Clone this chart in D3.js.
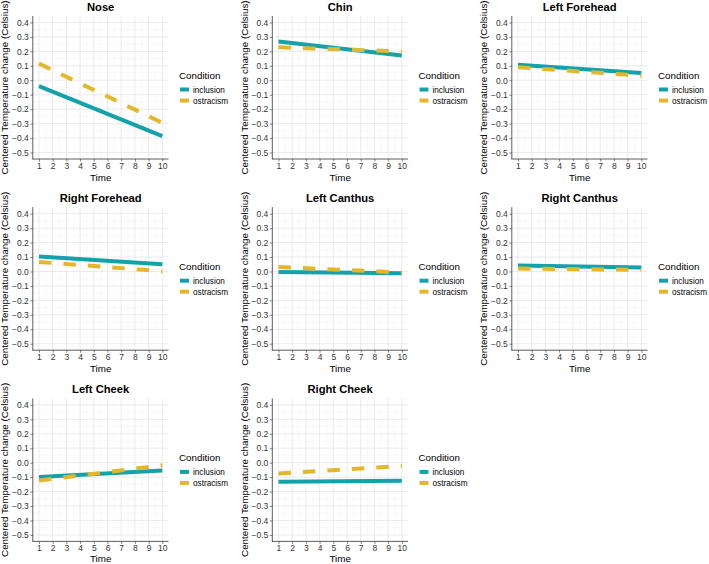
<!DOCTYPE html>
<html>
<head>
<meta charset="utf-8">
<script src="https://cdn.jsdelivr.net/npm/d3@7"></script>
<style>
  html, body { margin: 0; padding: 0; background: #fff; }
  svg { display: block; font-family: "Liberation Sans", Arial, sans-serif; }
</style>
</head>
<body>
<svg id="chart" width="709" height="564"></svg>
<script>
// ---- data ----
const regions = ["Nose", "Chin", "Left Forehead", "Right Forehead", "Left Canthus", "Right Canthus", "Left Cheek", "Right Cheek"];
const times = [1, 10];
const conditions = ["inclusion", "ostracism"];
// fitted values at Time 1 and Time 10
const inclusionValues = [
  [-0.041, -0.386],
  [0.269, 0.172],
  [0.108, 0.051],
  [0.103, 0.050],
  [-0.003, -0.012],
  [0.041, 0.027],
  [-0.100, -0.055],
  [-0.132, -0.125]
];
const ostracismValues = [
  [0.115, -0.294],
  [0.228, 0.200],
  [0.090, 0.032],
  [0.066, 0.002],
  [0.031, -0.007],
  [0.020, 0.011],
  [-0.123, -0.018],
  [-0.075, -0.022]
];
const yTicks = [-0.5, -0.4, -0.3, -0.2, -0.1, 0.0, 0.1, 0.2, 0.3, 0.4];
const xTicks = [1, 2, 3, 4, 5, 6, 7, 8, 9, 10];
const yLabel = "Centered Temperature change (Celsius)";
const xLabel = "Time";
const legendTitle = "Condition";

// ---- styles ----
const colors = { inclusion: "#13A2A9", ostracism: "#E4B72A" };
const dashes = { inclusion: null, ostracism: "12.5,12" };

const svg = d3.select("#chart");
const colStep = 239.5, rowStep = 191.2;
const plotL = 32.8, plotR = 168.5, plotT = 16, plotB = 159;

const x = d3.scaleLinear().domain([0.55, 10.45]).range([plotL, plotR]);
const y = d3.scaleLinear().domain([-0.545, 0.445]).range([plotB, plotT]);

const fmt = v => (v < 0 ? "\u22120" + d3.format(".1f")(-v).slice(1) : d3.format(".1f")(v));

const line = d3.line().x(d => x(d[0])).y(d => y(d[1]));

regions.forEach((name, i) => {
  const col = i % 3, row = Math.floor(i / 3);
  const g = svg.append("g").attr("transform", `translate(${col * colStep},${row * rowStep})`);

  // grid minor
  const xMinor = xTicks.slice(0, -1).map(t => t + 0.5);
  const yMinor = yTicks.slice(0, -1).map(t => t + 0.05);
  g.append("g").selectAll("line.xm").data(xMinor).join("line")
    .attr("x1", d => x(d)).attr("x2", d => x(d)).attr("y1", plotT).attr("y2", plotB)
    .attr("stroke", "#f3f3f3").attr("stroke-width", 0.5);
  g.append("g").selectAll("line.ym").data(yMinor).join("line")
    .attr("x1", plotL).attr("x2", plotR).attr("y1", d => y(d)).attr("y2", d => y(d))
    .attr("stroke", "#f3f3f3").attr("stroke-width", 0.5);
  // grid major
  g.append("g").selectAll("line.xM").data(xTicks).join("line")
    .attr("x1", d => x(d)).attr("x2", d => x(d)).attr("y1", plotT).attr("y2", plotB)
    .attr("stroke", "#e6e6e6").attr("stroke-width", 0.8);
  g.append("g").selectAll("line.yM").data(yTicks).join("line")
    .attr("x1", plotL).attr("x2", plotR).attr("y1", d => y(d)).attr("y2", d => y(d))
    .attr("stroke", "#e6e6e6").attr("stroke-width", 0.8);

  // clip
  const cid = "clip" + i;
  g.append("clipPath").attr("id", cid).append("rect")
    .attr("x", plotL).attr("y", plotT).attr("width", plotR - plotL).attr("height", plotB - plotT);

  // lines
  const series = [
    { c: "inclusion", v: inclusionValues[i] },
    { c: "ostracism", v: ostracismValues[i] }
  ];
  series.forEach(s => {
    g.append("path")
      .attr("clip-path", `url(#${cid})`)
      .attr("d", line(times.map((t, k) => [t, s.v[k]])))
      .attr("fill", "none")
      .attr("stroke", colors[s.c])
      .attr("stroke-width", 4)
      .attr("stroke-dasharray", dashes[s.c]);
  });

  // axes
  const yAxis = d3.axisLeft(y).tickValues(yTicks).tickSize(2.5).tickPadding(1.5).tickFormat(fmt);
  const ya = g.append("g").attr("transform", `translate(${plotL},0)`).call(yAxis);
  ya.select(".domain").remove();
  const xAxis = d3.axisBottom(x).tickValues(xTicks).tickSize(2.5).tickPadding(1.3).tickFormat(d3.format("d"));
  const xa = g.append("g").attr("transform", `translate(0,${plotB})`).call(xAxis);
  xa.select(".domain").remove();
  [ya, xa].forEach(a => {
    a.selectAll("text").attr("font-size", 8.5).attr("fill", "#333").attr("font-family", "Liberation Sans, Arial, sans-serif");
    a.selectAll(".tick line").attr("stroke", "#333").attr("stroke-width", 0.6);
  });
  g.append("line").attr("x1", plotL).attr("x2", plotL).attr("y1", plotT).attr("y2", plotB + 0.3)
    .attr("stroke", "#333").attr("stroke-width", 0.8);
  g.append("line").attr("x1", plotL - 0.3).attr("x2", plotR).attr("y1", plotB).attr("y2", plotB)
    .attr("stroke", "#333").attr("stroke-width", 0.8);

  // titles
  g.append("text").attr("x", (plotL + plotR) / 2).attr("y", 10.5)
    .attr("text-anchor", "middle").attr("font-size", 11.2).attr("font-weight", "bold").attr("fill", "#000")
    .text(name);
  g.append("text").attr("x", (plotL + plotR) / 2).attr("y", row === 2 ? 179.8 : 181.3)
    .attr("text-anchor", "middle").attr("font-size", 9.8).attr("fill", "#000").text(xLabel);
  g.append("text").attr("transform", `translate(8.3,${(plotT + plotB) / 2}) rotate(-90)`)
    .attr("text-anchor", "middle").attr("font-size", 9.8).attr("fill", "#000").text(yLabel);

  // legend
  const lg = g.append("g").attr("transform", "translate(179,0)");
  lg.append("text").attr("x", 0).attr("y", 78.5).attr("font-size", 9.8).attr("fill", "#000").text(legendTitle);
  conditions.forEach((c, k) => {
    const cy = 89.5 + k * 11;
    lg.append("line").attr("x1", 1).attr("x2", 10).attr("y1", cy).attr("y2", cy)
      .attr("stroke", colors[c]).attr("stroke-width", 4).attr("stroke-dasharray", dashes[c]);
    lg.append("text").attr("x", 14).attr("y", cy + 3).attr("font-size", 8.2).attr("fill", "#000").text(c);
  });
});
</script>
</body>
</html>
